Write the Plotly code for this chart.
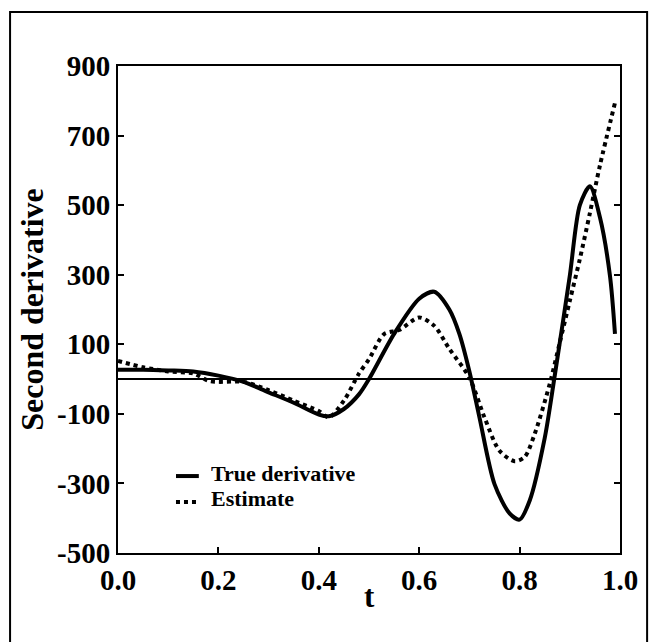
import plotly.graph_objects as go

# True derivative (solid)
t_true = [0.0, 0.05, 0.10, 0.15, 0.20, 0.25, 0.30, 0.35, 0.40, 0.42, 0.45, 0.48, 0.50,
          0.55, 0.60, 0.63, 0.66, 0.68, 0.70, 0.72, 0.75, 0.78, 0.80, 0.82, 0.85, 0.87,
          0.90, 0.92, 0.94, 0.96, 0.98, 0.99]
y_true = [27, 27, 25, 22, 10, -8, -38, -68, -102, -107, -86, -44, 0,
          130, 231, 251, 200, 130, 22, -110, -302, -386, -404, -350, -170, 10,
          297, 500, 554, 465, 297, 130]

# Estimate (dotted)
t_est = [0.0, 0.05, 0.10, 0.15, 0.18, 0.20, 0.25, 0.30, 0.35, 0.40, 0.42, 0.45, 0.48,
         0.50, 0.53, 0.56, 0.60, 0.63, 0.66, 0.70, 0.73, 0.76, 0.79, 0.81, 0.83, 0.86,
         0.88, 0.90, 0.92, 0.94, 0.96, 0.99]
y_est = [52, 34, 22, 16, -5, -8, -8, -32, -62, -92, -110, -62, 16,
         57, 129, 141, 177, 153, 87, 4, -110, -206, -236, -224, -158, -14,
         105, 225, 345, 477, 614, 794]

x_ticks = [0.0, 0.2, 0.4, 0.6, 0.8, 1.0]
x_ticklabels = ["0.0", "0.2", "0.4", "0.6", "0.8", "1.0"]
y_ticks = [-500, -300, -100, 100, 300, 500, 700, 900]
y_ticklabels = ["-500", "-300", "-100", "100", "300", "500", "700", "900"]
legend_names = ["True derivative", "Estimate"]

FONT = "Liberation Serif"

fig = go.Figure()
fig.add_trace(go.Scatter(x=t_true, y=y_true, mode="lines", name=legend_names[0], showlegend=False,
                         line=dict(color="black", width=4, shape="spline", smoothing=0.8)))
fig.add_trace(go.Scatter(x=t_est, y=y_est, mode="lines", name=legend_names[1], showlegend=False,
                         line=dict(color="black", width=4, dash="dot", shape="spline", smoothing=0.8)))

fig.update_layout(
    width=649, height=642,
    margin=dict(l=118, r=29, t=66, b=89),
    paper_bgcolor="white", plot_bgcolor="white",
    font=dict(family=FONT, color="black"),
    showlegend=False,
    xaxis=dict(range=[0, 1], tickvals=x_ticks,
               ticktext=["<b>%s</b>" % s for s in x_ticklabels],
               ticks="inside", ticklen=6, tickwidth=1.5, tickcolor="black",
               showline=True, linecolor="black", linewidth=2, mirror=True,
               showgrid=False, zeroline=False,
               tickfont=dict(size=29, family=FONT)),
    yaxis=dict(range=[-500, 900], tickvals=y_ticks,
               ticktext=["<b>%s</b>" % s for s in y_ticklabels],
               ticks="inside", ticklen=6, tickwidth=1.5, tickcolor="black",
               showline=True, linecolor="black", linewidth=2, mirror="ticks",
               showgrid=False, zeroline=True, zerolinecolor="black", zerolinewidth=1.5,
               tickfont=dict(size=29, family=FONT),
               title=dict(text="<b>Second derivative</b>", font=dict(size=32, family=FONT), standoff=4)),
)

# x-axis title
fig.add_annotation(text="<b>t</b>", xref="paper", yref="paper", x=0.5, y=-0.09,
                   xanchor="center", yanchor="middle", showarrow=False,
                   font=dict(size=31, family=FONT, color="black"))

# legend (drawn manually to match the compact original)
leg_text_y = [0.1643, 0.1129]
leg_line_y = [0.158, 0.1047]
leg_dash = ["solid", "dot"]
for name, ty, ly, dsh in zip(legend_names, leg_text_y, leg_line_y, leg_dash):
    fig.add_shape(type="line", xref="paper", yref="paper", x0=0.1155, x1=0.161, y0=ly, y1=ly,
                  line=dict(color="black", width=4, dash=dsh))
    fig.add_annotation(text="<b>%s</b>" % name, xref="paper", yref="paper", x=0.182, y=ty,
                       xanchor="left", yanchor="middle", showarrow=False, height=24,
                       font=dict(size=22, family=FONT, color="black"))

# outer frame around the figure
fig.add_shape(type="rect", xref="paper", yref="paper",
              x0=-0.215, x1=1.054, y0=-0.2, y1=1.111,
              line=dict(color="black", width=2), layer="below")

fig.write_html("out.html")
